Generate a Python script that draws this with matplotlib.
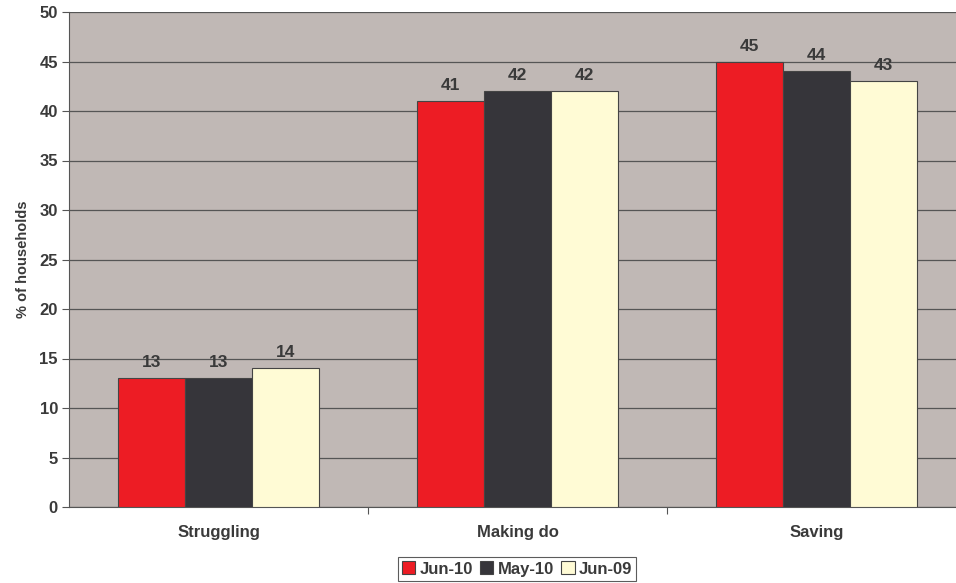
import matplotlib.pyplot as plt
import numpy as np

categories = ['Struggling', 'Making do', 'Saving']
series_names = ['Jun-10', 'May-10', 'Jun-09']
jun10 = [13, 41, 45]
may10 = [13, 42, 44]
jun09 = [14, 42, 43]
colors = ['#ED1C24', '#36353A', '#FFFBD5']

plt.rcParams['font.family'] = 'Liberation Sans'
plt.rcParams['font.weight'] = 'bold'
txt = '#3a3a3a'

fig = plt.figure(figsize=(9.56, 5.83), dpi=100)
W, H = 956, 583
ax = fig.add_axes([69 / W, 1 - 507 / H, 897 / W, 495 / H])
ax.set_facecolor('#C0B8B5')

x = np.arange(len(categories))
bw = 0.224
for k, (vals, name) in enumerate(zip([jun10, may10, jun09], series_names)):
    pos = x + (k - 1) * bw
    bars = ax.bar(pos, vals, bw, color=colors[k], edgecolor='#444444',
                  linewidth=0.8, label=name, zorder=3)
    for p, v in zip(pos, vals):
        ax.text(p, v + 0.8, str(v), ha='center', va='bottom', fontsize=12.5,
                fontweight='bold', color=txt, zorder=4)

ax.set_xlim(-0.5, 2.5)
ax.set_ylim(0, 50)
ax.set_yticks(range(0, 51, 5))
ax.yaxis.grid(True, color='#555555', linewidth=0.9, zorder=0)
ax.set_axisbelow(True)
ax.set_xticks([0.5, 1.5], minor=False)
ax.set_xticklabels([])
ax.set_xticks(x, minor=True)
ax.set_xticklabels(categories, minor=True)
ax.tick_params(axis='x', which='minor', length=0, pad=13, labelsize=12, labelcolor=txt)
ax.tick_params(axis='x', which='major', length=5, color='#555555')
ax.tick_params(axis='y', length=5, color='#555555', labelsize=12, labelcolor=txt, pad=3)
for s in ['top', 'right']:
    ax.spines[s].set_visible(False)
for s in ['left', 'bottom']:
    ax.spines[s].set_color('#555555')
ax.set_ylabel('% of households', fontsize=10.5, fontweight='bold', color=txt, labelpad=7)

leg = ax.legend(loc='center', bbox_to_anchor=((517 - 69) / 897, -(569 - 507) / 495),
                ncol=3, frameon=True, fancybox=False, edgecolor='#333333',
                fontsize=12, handlelength=0.8, handleheight=0.8, handletextpad=0.25,
                columnspacing=0.45, borderpad=0.25, borderaxespad=0)
leg.get_frame().set_linewidth(0.8)
for t in leg.get_texts():
    t.set_color(txt)

fig.savefig('out.png', dpi=100)
